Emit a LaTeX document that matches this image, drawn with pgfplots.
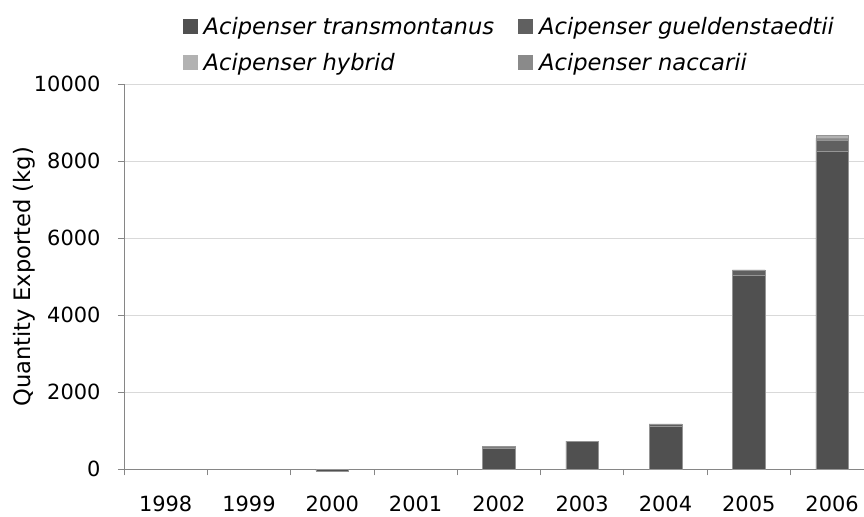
\documentclass[border=0pt]{standalone}
\usepackage{fontspec}
\setmainfont{DejaVu Sans}
\usepackage{pgfplots}
\usepackage{pgfplotstable}
\pgfplotsset{compat=1.18}
\definecolor{cTrans}{HTML}{505050}
\definecolor{cGuel}{HTML}{606060}
\definecolor{cHyb}{HTML}{B2B2B2}
\definecolor{cNac}{HTML}{8A8A8A}
\definecolor{axisgray}{HTML}{868686}
\definecolor{gridgray}{HTML}{D9D9D9}
\definecolor{edgegray}{HTML}{959595}

\pgfplotstableread{
x trans guel nac hyb
0 0 0 0 0
1 0 0 0 0
2 -40 0 0 0
3 0 0 0 0
4 560 45 0 0
5 735 0 0 0
6 1130 40 10 0
7 5030 150 0 0
8 8250 300 50 70
}\data

\begin{document}
\begin{tikzpicture}
\useasboundingbox (0,0) rectangle (864bp,517bp);
\begin{axis}[
  at={(124bp,47.7bp)}, anchor=south west,
  scale only axis, width=740bp, height=385bp,
  xmin=-0.5, xmax=8.383, ymin=0, ymax=10000,
  ybar stacked, bar width=32.7bp,
  clip=false,
  axis x line*=bottom, axis y line*=left,
  axis line style={draw=axisgray, line width=0.8bp},
  xtick={0,...,8},
  xticklabels={1998,1999,2000,2001,2002,2003,2004,2005,2006},
  minor xtick={-0.5,0.5,...,7.5},
  major x tick style={draw=none},
  minor x tick style={draw=axisgray, line width=0.8bp},
  y tick style={draw=axisgray, line width=0.8bp},
  major tick length=6bp, minor tick length=6bp,
  tick align=outside,
  ytick={0,2000,...,10000},
  scaled y ticks=false,
  ymajorgrids,
  major y grid style={draw=gridgray, line width=0.8bp},
  /pgf/number format/assume math mode=true,
  /pgf/number format/1000 sep={},
  ticklabel style={font=\fontsize{21}{25}\selectfont},
  x tick label style={yshift=-17bp},
  y tick label style={xshift=-14bp},
  ylabel={Quantity Exported (kg)},
  ylabel style={font=\fontsize{22.7}{27}\selectfont, at={(axis description cs:-0.135,0.5)}, anchor=center},
  legend columns=2,
  legend cell align=left,
  legend style={at={(axis description cs:0.075,1.185)}, anchor=north west,
    draw=none, fill=none, font=\itshape\fontsize{22.7}{27}\selectfont,
    nodes={inner xsep=2bp},
    /tikz/every odd column/.append style={column sep=4bp},
    /tikz/every even column/.append style={column sep=22bp},
    row sep=13bp},
  legend image code/.code={\fill[#1,draw=none] (0bp,-7.5bp) rectangle (15bp,7.5bp);},
  every axis plot/.append style={draw=edgegray, line width=0.4bp},
]
\addplot[fill=cTrans, forget plot] table[x=x,y=trans]{\data};
\addplot[fill=cGuel, forget plot] table[x=x,y=guel]{\data};
\addplot[fill=cNac, forget plot] table[x=x,y=nac]{\data};
\addplot[fill=cHyb, forget plot] table[x=x,y=hyb]{\data};
\addlegendimage{fill=cTrans}
\addlegendentry{Acipenser transmontanus}
\addlegendimage{fill=cGuel}
\addlegendentry{Acipenser gueldenstaedtii}
\addlegendimage{fill=cHyb}
\addlegendentry{Acipenser hybrid}
\addlegendimage{fill=cNac}
\addlegendentry{Acipenser naccarii}
\end{axis}
\end{tikzpicture}
\end{document}
